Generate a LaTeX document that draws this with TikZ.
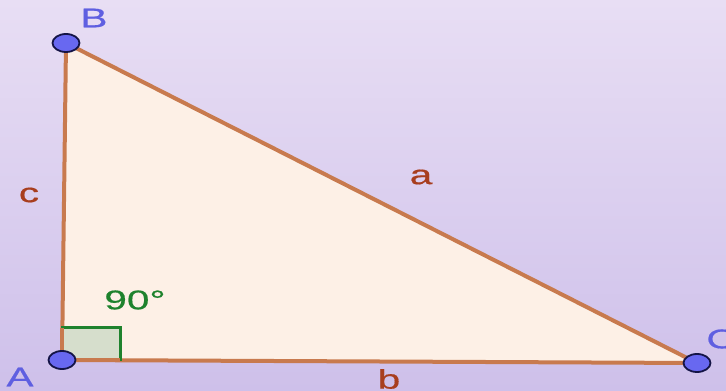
\documentclass[tikz,border=0pt]{standalone}
\usepackage{fontspec}
\setmainfont{Liberation Sans}
\newfontfamily\widesans[FakeStretch=1.5,FakeBold=0.6]{Liberation Sans}
\usetikzlibrary{shapes.geometric}

\definecolor{bgtop}{RGB}{232,222,244}
\definecolor{bgbot}{RGB}{206,192,234}
\definecolor{trifill}{RGB}{253,240,230}
\definecolor{edgebrown}{RGB}{200,122,78}
\definecolor{sidelabel}{RGB}{168,62,30}
\definecolor{anglegreen}{RGB}{30,130,45}
\definecolor{anglefill}{RGB}{214,222,204}
\definecolor{ptblue}{RGB}{104,104,240}
\definecolor{ptline}{RGB}{20,20,70}
\definecolor{ptlabel}{RGB}{95,95,225}

\begin{document}
\begin{tikzpicture}[x=1pt,y=1pt,
        vertex/.style={
            ellipse,
            draw=ptline,
            fill=ptblue,
            line width=1.8pt,
            minimum width=27pt,
            minimum height=18pt,
            inner sep=0pt
        },
        edge/.style={
            draw=edgebrown,
            line width=4pt
        },
        vlabel/.style={
            text=ptlabel,
            font=\widesans\fontsize{27}{29}\selectfont
        },
        slabel/.style={
            text=sidelabel,
            font=\widesans\fontsize{27}{29}\selectfont
        }
    ]

        \useasboundingbox (0,0) rectangle (726,391);
        \shade[top color=bgtop, bottom color=bgbot] (0,0) rectangle (726,391);

        \coordinate (A) at (62,31);
        \coordinate (B) at (66,348);
        \coordinate (C) at (697,28);

        \fill[trifill] (A) -- (B) -- (C) -- cycle;
        \draw[edge] (A) -- (B);
        \draw[edge] (B) -- (C);
        \draw[edge] (C) -- (A);

        \draw[anglegreen, fill=anglefill, line width=3pt] (62,31) rectangle (120,63);
        \draw[edge] (A) -- (120,31);
        \draw[edge] (A) -- (62,63);

        \node[vertex] (ptA) at (A) {};
        \node[vertex] (ptB) at (B) {};
        \node[vertex] (ptC) at (C) {};

        \node[vlabel] (labA) at (20,14) {A};
        \node[vlabel] (labB) at (94,373) {B};
        \node[vlabel] (labC) at (721,52) {C};

        \node[slabel] (laba) at (421,214) {a};
        \node[slabel] (labb) at (389,12) {b};
        \node[slabel] (labc) at (29,196) {c};

        \node[text=anglegreen, font=\widesans\fontsize{27}{29}\selectfont] (ang) at (135,91) {90°};

    \end{tikzpicture}
\end{document}
